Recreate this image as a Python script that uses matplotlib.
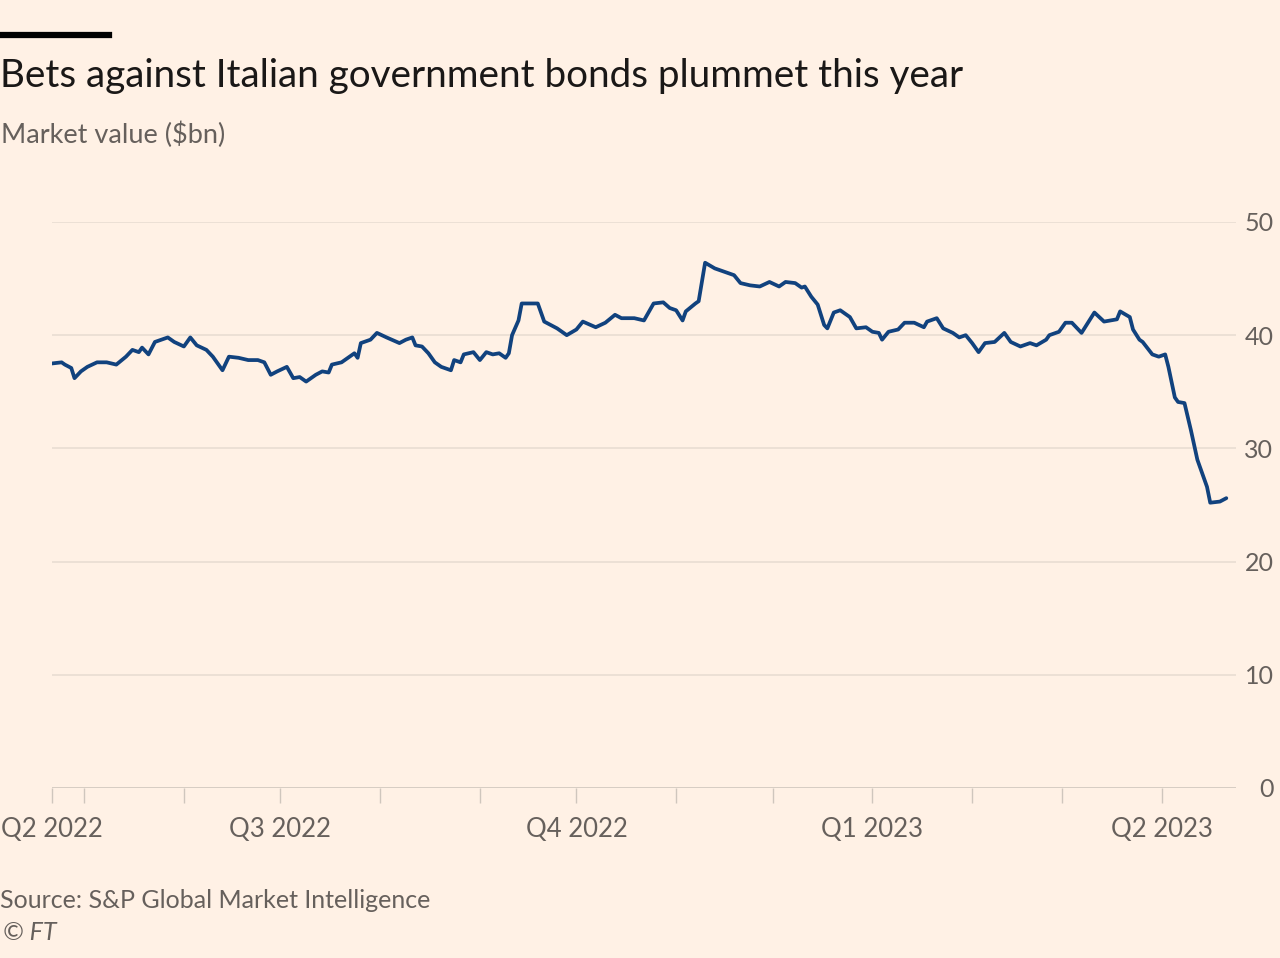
import matplotlib
matplotlib.use("Agg")
import matplotlib.pyplot as plt
import pandas as pd

# ---- data ----
dates = [
    "2022-04-21", "2022-04-24", "2022-04-25", "2022-04-27", "2022-04-28", "2022-04-30",
    "2022-05-02", "2022-05-05", "2022-05-08", "2022-05-11", "2022-05-14", "2022-05-16",
    "2022-05-18", "2022-05-19", "2022-05-21", "2022-05-23", "2022-05-27", "2022-05-29",
    "2022-06-01", "2022-06-03", "2022-06-05", "2022-06-08", "2022-06-10", "2022-06-13",
    "2022-06-15", "2022-06-18", "2022-06-21", "2022-06-24", "2022-06-26", "2022-06-28",
    "2022-06-30", "2022-07-03", "2022-07-05", "2022-07-07", "2022-07-09", "2022-07-12",
    "2022-07-14", "2022-07-16", "2022-07-17", "2022-07-20", "2022-07-22", "2022-07-24",
    "2022-07-25", "2022-07-26", "2022-07-29", "2022-07-31", "2022-08-03", "2022-08-07",
    "2022-08-09", "2022-08-11", "2022-08-12", "2022-08-14", "2022-08-16", "2022-08-18",
    "2022-08-20", "2022-08-23", "2022-08-24", "2022-08-26", "2022-08-27", "2022-08-30",
    "2022-09-01", "2022-09-03", "2022-09-05", "2022-09-07", "2022-09-09", "2022-09-10",
    "2022-09-11", "2022-09-13", "2022-09-14", "2022-09-19", "2022-09-21", "2022-09-25",
    "2022-09-28", "2022-10-01", "2022-10-03", "2022-10-07", "2022-10-10", "2022-10-13",
    "2022-10-15", "2022-10-19", "2022-10-22", "2022-10-25", "2022-10-28", "2022-10-30",
    "2022-11-01", "2022-11-03", "2022-11-04", "2022-11-07", "2022-11-08", "2022-11-10",
    "2022-11-13", "2022-11-16", "2022-11-19", "2022-11-21", "2022-11-24", "2022-11-27",
    "2022-11-30", "2022-12-03", "2022-12-05", "2022-12-08", "2022-12-10", "2022-12-11",
    "2022-12-13", "2022-12-15", "2022-12-17", "2022-12-18", "2022-12-20", "2022-12-22",
    "2022-12-25", "2022-12-27", "2022-12-30", "2023-01-01", "2023-01-03", "2023-01-04",
    "2023-01-06", "2023-01-09", "2023-01-11", "2023-01-14", "2023-01-17", "2023-01-18",
    "2023-01-21", "2023-01-23", "2023-01-26", "2023-01-28", "2023-01-30", "2023-02-01",
    "2023-02-03", "2023-02-05", "2023-02-08", "2023-02-11", "2023-02-13", "2023-02-16",
    "2023-02-19", "2023-02-21", "2023-02-24", "2023-02-25", "2023-02-28", "2023-03-02",
    "2023-03-04", "2023-03-07", "2023-03-11", "2023-03-14", "2023-03-18", "2023-03-19",
    "2023-03-22", "2023-03-23", "2023-03-25", "2023-03-26", "2023-03-29", "2023-03-31",
    "2023-04-02", "2023-04-03", "2023-04-05", "2023-04-06", "2023-04-08", "2023-04-10",
    "2023-04-12", "2023-04-15", "2023-04-16", "2023-04-19", "2023-04-21",
]
values = [
    37.5, 37.6, 37.4, 37.1, 36.2, 36.8,
    37.2, 37.6, 37.6, 37.4, 38.1, 38.7,
    38.5, 38.9, 38.3, 39.4, 39.8, 39.4,
    39.0, 39.8, 39.1, 38.7, 38.1, 36.9,
    38.1, 38.0, 37.8, 37.8, 37.6, 36.5,
    36.8, 37.2, 36.2, 36.3, 35.9, 36.5,
    36.8, 36.7, 37.4, 37.6, 38.0, 38.4,
    38.0, 39.3, 39.6, 40.2, 39.8, 39.3,
    39.6, 39.8, 39.1, 39.0, 38.4, 37.6,
    37.2, 36.9, 37.8, 37.6, 38.3, 38.5,
    37.8, 38.5, 38.3, 38.4, 38.0, 38.4,
    40.0, 41.3, 42.8, 42.8, 41.2, 40.6,
    40.0, 40.5, 41.2, 40.7, 41.1, 41.8,
    41.5, 41.5, 41.3, 42.8, 42.9, 42.4,
    42.2, 41.3, 42.1, 42.8, 43.0, 46.4,
    45.9, 45.6, 45.3, 44.6, 44.4, 44.3,
    44.7, 44.3, 44.7, 44.6, 44.2, 44.3,
    43.4, 42.7, 40.9, 40.6, 42.0, 42.2,
    41.6, 40.6, 40.7, 40.3, 40.2, 39.6,
    40.3, 40.5, 41.1, 41.1, 40.7, 41.2,
    41.5, 40.6, 40.2, 39.8, 40.0, 39.3,
    38.5, 39.3, 39.4, 40.2, 39.4, 39.0,
    39.3, 39.1, 39.6, 40.0, 40.3, 41.1,
    41.1, 40.2, 42.0, 41.2, 41.4, 42.1,
    41.6, 40.5, 39.6, 39.4, 38.3, 38.1,
    38.3, 37.2, 34.5, 34.1, 34.0, 31.6,
    29.0, 26.6, 25.2, 25.3, 25.6,
]

x_start = "2022-04-21"
x_end = "2023-04-24"
tick_labels = ["Q2 2022", "Q3 2022", "Q4 2022", "Q1 2023", "Q2 2023"]
tick_label_dates = ["2022-04-21", "2022-07-01", "2022-10-01", "2023-01-01", "2023-04-01"]
month_ticks = ["2022-05-01", "2022-06-01", "2022-08-01", "2022-09-01", "2022-11-01",
               "2022-12-01", "2023-02-01", "2023-03-01"]
y_ticks = [0, 10, 20, 30, 40, 50]

title = "Bets against Italian government bonds plummet this year"
subtitle = "Market value ($bn)"
source = "Source: S&P Global Market Intelligence"
credit = "© FT"

# ---- style ----
BG = "#FFF1E5"
GRID = "#E9DDD2"
BASE = "#CFC6BD"
TXT = "#66605C"
LINE = "#11427E"
FONT = ["Lato", "DejaVu Sans"]
plt.rcParams["font.family"] = FONT

fig = plt.figure(figsize=(12.8, 9.58), dpi=100, facecolor=BG)
ax = fig.add_axes([0.0406, 0.1775, 0.9250, 0.5908], facecolor=BG)

d = pd.to_datetime(dates)
ax.plot(d, values, color=LINE, lw=2.7, solid_joinstyle="round",
        solid_capstyle="round", zorder=3)

ax.set_xlim(pd.Timestamp(x_start), pd.Timestamp(x_end))
ax.set_ylim(0, 50)

for s in ax.spines.values():
    s.set_visible(False)

# gridlines
for yv in y_ticks:
    ax.axhline(yv, color=BASE if yv == 0 else GRID, lw=1.2, zorder=1)

ax.yaxis.tick_right()
ax.set_yticks(y_ticks)
ax.set_yticklabels([str(v) for v in y_ticks])
ax.tick_params(axis="y", length=0, pad=27, labelsize=18, labelcolor=TXT)
for lab in ax.get_yticklabels():
    lab.set_horizontalalignment("right")

major = pd.to_datetime(tick_label_dates)
minor = pd.to_datetime(month_ticks)
ax.set_xticks(major)
ax.set_xticklabels(tick_labels)
ax.set_xticks(minor, minor=True)
ax.tick_params(axis="x", which="both", length=11, width=1, color=BASE,
               labelsize=18.5, labelcolor=TXT, pad=10)

# header / footer
fig.add_artist(plt.Line2D([0, 109 / 1280], [1 - 35 / 958, 1 - 35 / 958],
                          color="black", lw=4.5, transform=fig.transFigure))
fig.text(0.0, 1 - 76 / 958, title, fontsize=27.8, color="#1A1817", va="center", ha="left")
fig.text(0.001, 1 - 135 / 958, subtitle, fontsize=19.5, color=TXT, va="center", ha="left")
fig.text(0.0, 1 - 900 / 958, source, fontsize=18, color=TXT, va="center", ha="left")
fig.text(0.002, 1 - 933 / 958, credit, fontsize=18, color=TXT, va="center", ha="left",
         style="italic")

fig.savefig("out.png", dpi=100, facecolor=BG)
